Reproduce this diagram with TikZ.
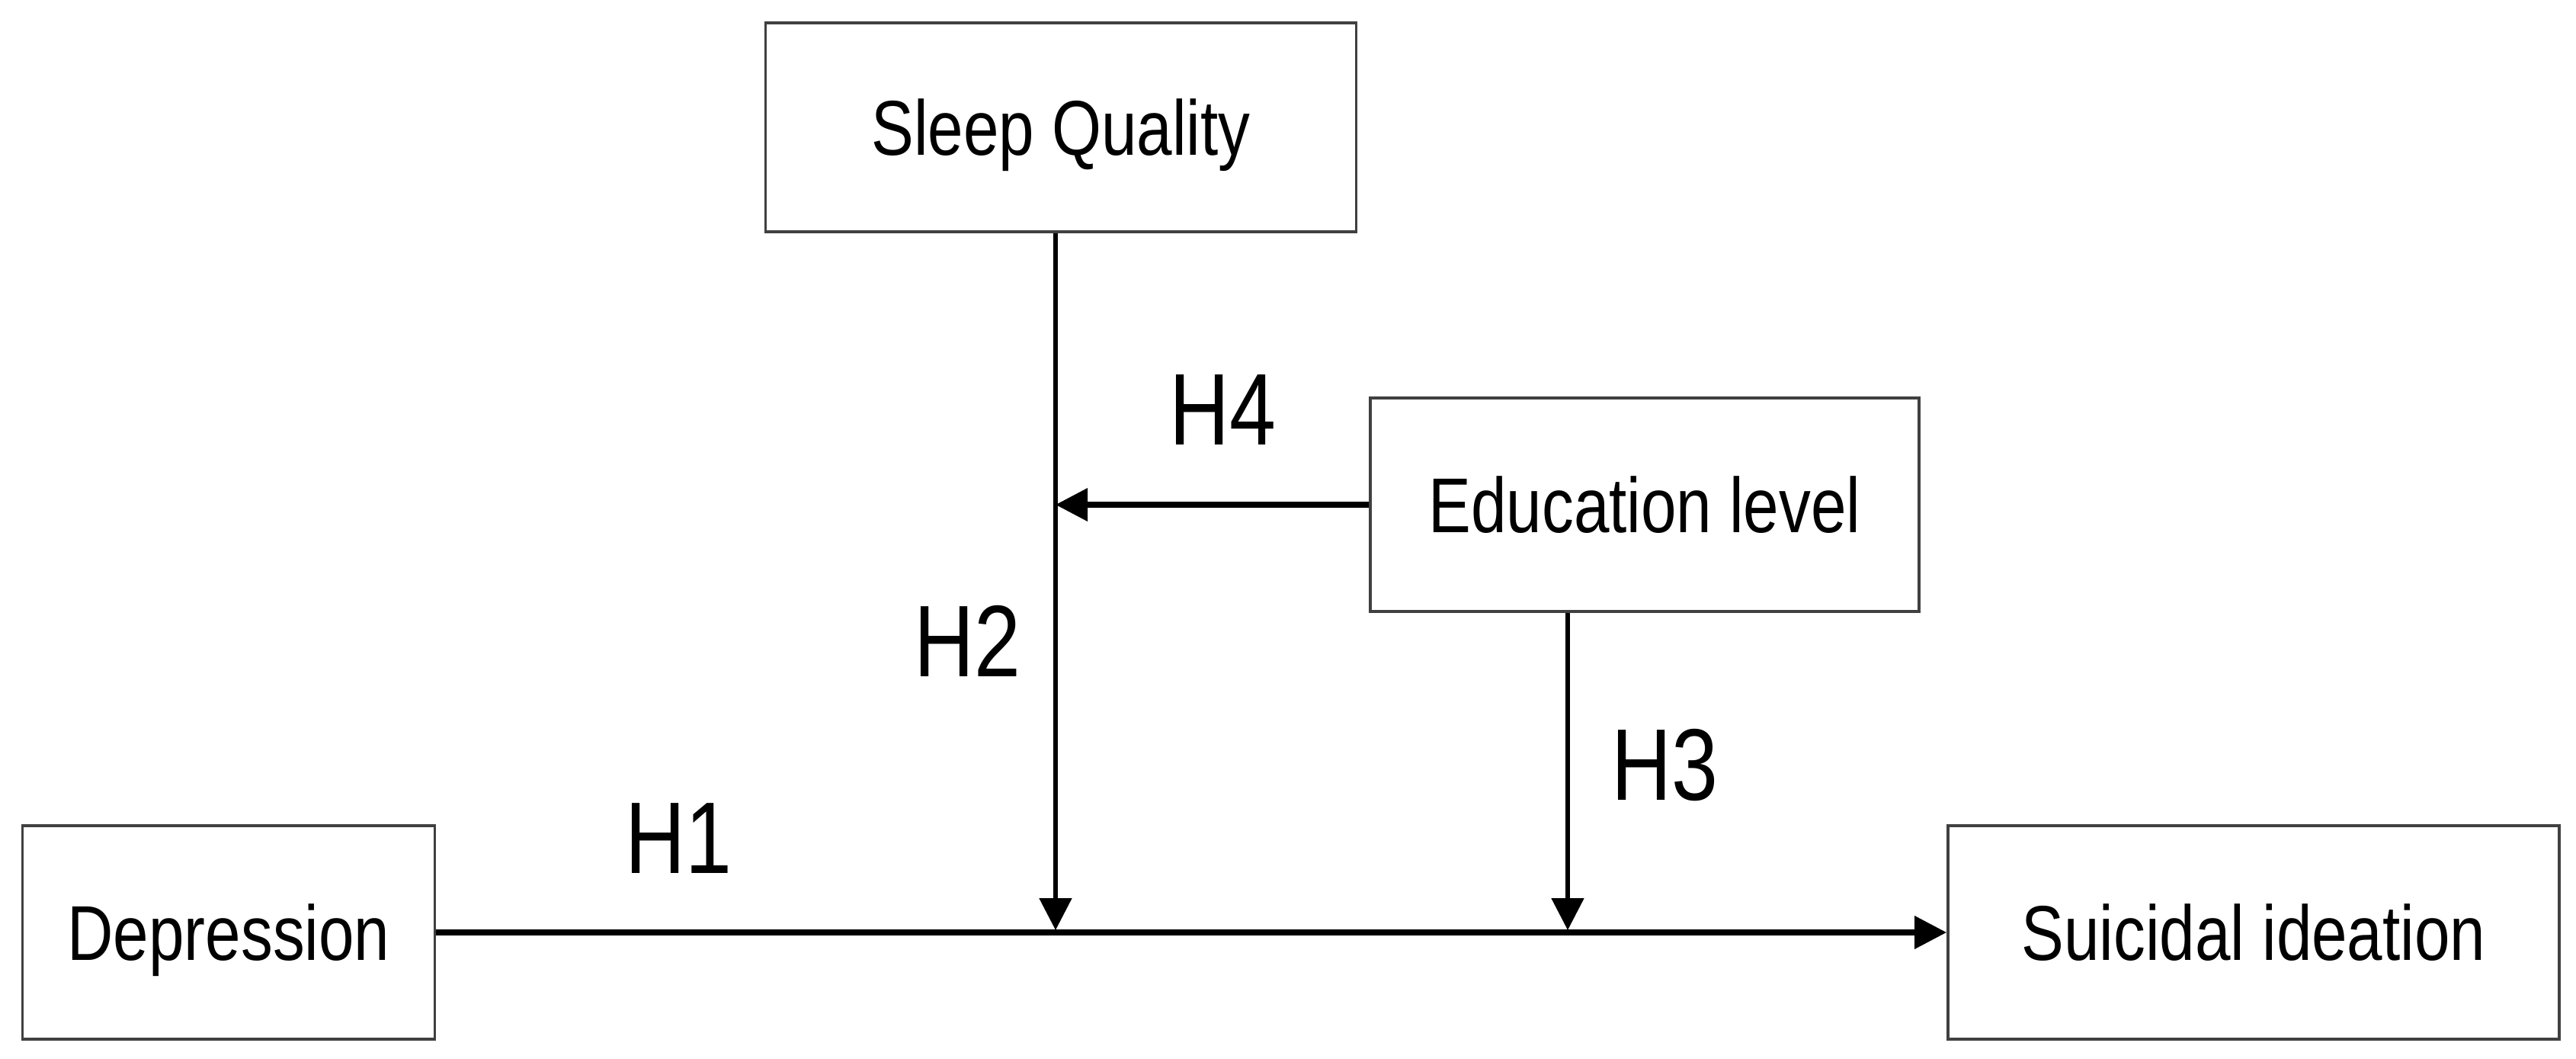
\documentclass[tikz,border=0pt]{standalone}
\usepackage{fontspec}
\setmainfont{Liberation Sans}[FakeStretch=0.82]
\usetikzlibrary{arrows.meta, positioning}

\tikzset{
    variabile/.style = {draw = black!75, line width = 1.1pt, fill = white,
        inner sep = 0pt, text height = 20.8pt, text depth = 0pt,
        font = \fontsize{29}{35}\selectfont},
    ipotesi/.style = {inner sep = 0pt, font = \fontsize{38}{45}\selectfont},
    freccia/.style = {-{Triangle[length=0.42cm, width=0.42cm]}}
}

\begin{document}
\begin{tikzpicture}
    % Parametri
    \pgfmathsetmacro{\yasse}{1.65}
    \pgfmathsetmacro{\xsonno}{13.85}
    \pgfmathsetmacro{\xistr}{20.57}
    % Cornice
    \useasboundingbox (0,0) rectangle (33.8,13.88);
    % Variabili
    \node[variabile, minimum width = 7.75cm, minimum height = 2.74cm] (sonno) at (13.92,12.21) {Sleep Quality};
    \node[variabile, minimum width = 7.20cm, minimum height = 2.80cm] (istr) at (21.58,7.26) {Education level};
    \node[variabile, minimum width = 5.41cm, minimum height = 2.80cm] (depr) at (3.00,\yasse) {Depression};
    \node[variabile, minimum width = 8.02cm, minimum height = 2.80cm] (suic) at (29.57,\yasse) {Suicidal ideation};
    % Punti sull'asse principale
    \coordinate (m1) at (\xsonno,\yasse);
    \coordinate (m2) at (\xistr,\yasse);
    % Frecce
    \draw[freccia, line width = 2pt] (depr.east) -- (suic.west);
    \draw[freccia, line width = 1.5pt, shorten >= 0.03cm] (sonno.south -| m1) -- (m1);
    \draw[freccia, line width = 1.5pt, shorten >= 0.03cm] (istr.south -| m2) -- (m2);
    \draw[freccia, line width = 2pt] (istr.west) -- (istr.west -| m1);
    % Ipotesi
    \node[ipotesi] (h1) at (8.90,2.88) {H1};
    \node[ipotesi] (h2) at (12.69,5.47) {H2};
    \node[ipotesi] (h3) at (21.84,3.84) {H3};
    \node[ipotesi] (h4) at (16.04,8.50) {H4};
\end{tikzpicture}
\end{document}
